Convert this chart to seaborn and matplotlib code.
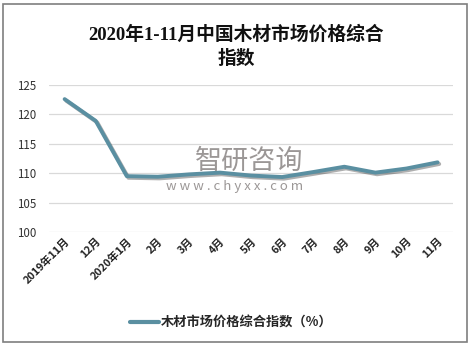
import matplotlib
matplotlib.use("Agg")
import matplotlib.pyplot as plt
import matplotlib.patheffects as pe
from matplotlib.patches import Rectangle
from matplotlib.lines import Line2D
import seaborn as sns
import pandas as pd

months = ["2019年11月", "12月", "2020年1月", "2月", "3月", "4月", "5月",
          "6月", "7月", "8月", "9月", "10月", "11月"]
values = [122.6, 118.9, 109.5, 109.4, 109.8, 110.1, 109.6,
          109.35, 110.2, 111.1, 110.1, 110.8, 111.85]
yticks = [100, 105, 110, 115, 120, 125]
series_name = "木材市场价格综合指数（%）"
title = "2020年1-11月中国木材市场价格综合\n指数"

sns.set_theme(style="white")
plt.rcParams['font.family'] = ['Noto Sans CJK SC', 'DejaVu Sans']

df = pd.DataFrame({"month": months, "value": values, "series": series_name})

fig = plt.figure(figsize=(4.72, 3.45), dpi=100)
ax = fig.add_axes([0.104, 0.3275, 0.856, 0.4261])

line_color = "#5A8FA1"
sns.lineplot(data=df, x="month", y="value", hue="series", palette=[line_color],
             sort=False, linewidth=2.8, ax=ax)
for ln in ax.get_lines():
    ln.set_path_effects([pe.SimpleLineShadow(offset=(1.2, -1.2), alpha=0.35),
                         pe.Normal()])
    ln.set_solid_capstyle("round")

ax.set_xlim(-0.5, len(months) - 0.5)
ax.set_ylim(100, 125)
ax.set_yticks(yticks)
ax.grid(axis="y", color="#D9D9D9", linewidth=0.9)
ax.set_axisbelow(True)
for s in ax.spines.values():
    s.set_visible(False)
ax.set_xlabel("")
ax.set_ylabel("")
ax.tick_params(axis="y", length=0, pad=9, labelsize=8.3, labelcolor="#333333")
ax.tick_params(axis="x", length=0, pad=3)
ax.set_xticks(range(len(months)))
ax.set_xticklabels(months, rotation=45, ha="right", rotation_mode="anchor",
                   fontsize=7.8, fontweight="bold", color="#222222")

ax.legend_.remove()
h = Line2D([], [], color=line_color, linewidth=3, solid_capstyle="round")
fig.legend([h], [series_name], loc="center", bbox_to_anchor=(0.49, 0.064),
           frameon=False, handlelength=2.2, handletextpad=0.15,
           prop={"family": ["Noto Sans CJK SC", "DejaVu Sans"], "weight": "bold", "size": 9.5})

fig.text(0.5, 0.865, title, ha="center", va="center", fontsize=13.5,
         fontweight="bold", linespacing=1.45,
         family=["Liberation Serif", "Noto Sans CJK SC"], color="#111111")

# watermark
fig.text(0.413, 0.533, "智研咨询", fontsize=19.5, color="#8A8584", alpha=0.85,
         ha="left", va="center")
fig.text(0.352, 0.458, "w w w . c h y x x . c o m", fontsize=9.5, color="#8A8584",
         alpha=0.85, ha="left", va="center")

fig.patches.append(Rectangle((3 / 472, 3 / 345), 464 / 472, 338 / 345,
                             transform=fig.transFigure, fill=False,
                             edgecolor="#7F7F7F", linewidth=1.2))

fig.savefig("out.png", dpi=100)
